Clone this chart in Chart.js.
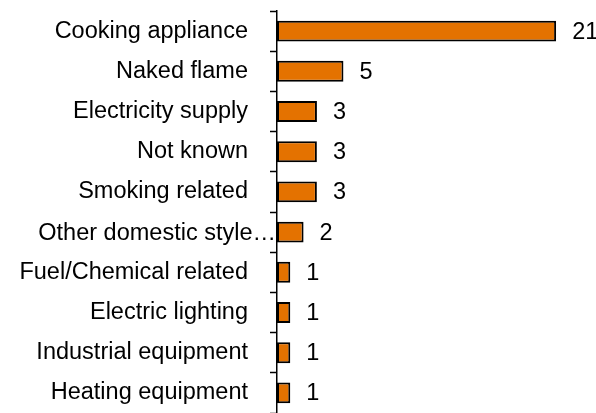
<!DOCTYPE html>
<html>
<head>
<meta charset="utf-8">
<script src="https://cdn.jsdelivr.net/npm/chart.js@4.4.1/dist/chart.umd.min.js"></script>
<style>
  html, body { margin: 0; padding: 0; background: #fff; }
  #wrap { width: 596px; height: 413px; }
</style>
</head>
<body>
<div id="wrap"><canvas id="chart"></canvas></div>
<script>
"use strict";

var causes = [
    "Cooking appliance",
    "Naked flame",
    "Electricity supply",
    "Not known",
    "Smoking related",
    "Other domestic style\u2026",
    "Fuel/Chemical related",
    "Electric lighting",
    "Industrial equipment",
    "Heating equipment"
];
var counts = [21, 5, 3, 3, 3, 2, 1, 1, 1, 1];
var x_max = 24;

var font_family = "'Liberation Sans', Arial, Helvetica, sans-serif";
var font_size = 23.5;

function is_truncated(label) {
    return label.slice(-1) === "\u2026";
}

// value labels to the right of each bar, and truncated category
// labels drawn flush against the axis like the original
var value_labels = {
    id: "value_labels",
    afterDatasetsDraw: function(chart) {
        var ctx = chart.ctx;
        var meta = chart.getDatasetMeta(0);
        var y_scale = chart.scales.y;
        ctx.save();
        ctx.font = font_size + "px " + font_family;
        ctx.fillStyle = "#000";
        ctx.textBaseline = "middle";
        meta.data.forEach(function(bar, i) {
            ctx.textAlign = "left";
            ctx.fillText(String(counts[i]), bar.x + 16, bar.y + 1);
            if (is_truncated(causes[i])) {
                ctx.textAlign = "right";
                ctx.fillText(causes[i], y_scale.right - 1, y_scale.getPixelForValue(i) + 1);
            }
        });
        ctx.restore();
    }
};

var chart_context = document.getElementById("chart").getContext("2d");
var chart = new Chart(chart_context, {
    type: "bar",
    data: {
        labels: causes,
        datasets: [{
            data: counts,
            backgroundColor: "rgb(228,114,0)",
            borderColor: "#000",
            borderWidth: 2,
            borderSkipped: false,
            barPercentage: 0.52,
            categoryPercentage: 1
        }]
    },
    options: {
        indexAxis: "y",
        responsive: true,
        maintainAspectRatio: false,
        animation: false,
        layout: { padding: { top: 11, bottom: 0, left: 0, right: 0 } },
        plugins: {
            legend: { display: false },
            tooltip: { enabled: false }
        },
        scales: {
            x: {
                display: false,
                min: 0,
                max: x_max
            },
            y: {
                offset: true,
                afterFit: function(scale) {
                    scale.width = 277;
                    scale.paddingTop = 0;
                    scale.paddingBottom = 0;
                },
                border: { display: true, color: "#000", width: 1.5 },
                grid: {
                    offset: true,
                    drawOnChartArea: false,
                    drawTicks: true,
                    tickLength: 7,
                    tickWidth: 1.5,
                    tickColor: "#000"
                },
                ticks: {
                    autoSkip: false,
                    padding: 22,
                    color: function(c) {
                        return is_truncated(causes[c.index]) ? "rgba(0,0,0,0)" : "#000";
                    },
                    font: { family: font_family, size: font_size }
                }
            }
        }
    },
    plugins: [value_labels]
});
</script>
</body>
</html>
